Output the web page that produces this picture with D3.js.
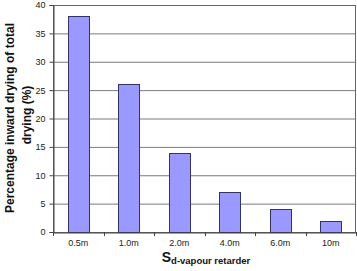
<!DOCTYPE html>
<html><head><meta charset="utf-8">
<script src="https://cdn.jsdelivr.net/npm/d3@7"></script>
<style>body{margin:0;background:#fff}svg{display:block;font-family:"Liberation Sans",Arial,sans-serif}</style>
</head><body>
<svg id="c" width="357" height="271"></svg>
<script>
const categories = ["0.5m","1.0m","2.0m","4.0m","6.0m","10m"];
const values = [38, 26, 14, 7, 4, 2];
const yTicks = [0,5,10,15,20,25,30,35,40];

const svg = d3.select("#c");
const L = 53, R = 356, T = 5, B = 232;
const x = d3.scaleBand().domain(categories).range([L, R]).paddingInner(0.59).paddingOuter(0.295);
const y = d3.scaleLinear().domain([0, 40]).range([B, T]);

// gridlines
svg.append("g").selectAll("line").data(yTicks.filter(t => t > 0 && t < 40)).join("line")
  .attr("x1", L).attr("x2", R).attr("y1", d => y(d) + 0.5).attr("y2", d => y(d) + 0.5)
  .attr("stroke", "#7a7a7a").attr("stroke-width", 1);

// plot border
svg.append("rect").attr("x", L + 0.5).attr("y", T + 0.5).attr("width", R - L - 1).attr("height", B - T)
  .attr("fill", "none").attr("stroke", "#666").attr("stroke-width", 1);

// bars
svg.append("g").selectAll("rect").data(values).join("rect")
  .attr("x", (d, i) => Math.round(x(categories[i])) + 0.5)
  .attr("y", d => Math.round(y(d)) + 0.5)
  .attr("width", Math.round(x.bandwidth()))
  .attr("height", d => Math.round(y(0)) - Math.round(y(d)))
  .attr("fill", "#9999ff").attr("stroke", "#333366").attr("stroke-width", 1);

// y axis
const ya = svg.append("g").attr("transform", `translate(${L + 0.5},0)`)
  .call(d3.axisLeft(y).tickValues(yTicks).tickSize(4).tickPadding(4).tickFormat(d3.format("d")));
ya.select(".domain").attr("stroke", "#444");
ya.selectAll(".tick line").attr("stroke", "#444");
ya.selectAll("text").attr("font-size", 9).attr("fill", "#222").attr("font-family", "Liberation Sans, Arial, sans-serif");

// x axis
const xa = svg.append("g").attr("transform", `translate(0,${B + 0.5})`)
  .call(d3.axisBottom(x).tickSize(0).tickPadding(7));
xa.select(".domain").attr("stroke", "#444");
xa.selectAll("text").attr("font-size", 9).attr("fill", "#222").attr("font-family", "Liberation Sans, Arial, sans-serif");
// tick marks between categories
svg.append("g").selectAll("line").data(d3.range(categories.length + 1)).join("line")
  .attr("x1", i => Math.round(L + i * (R - L) / categories.length) + 0.5)
  .attr("x2", i => Math.round(L + i * (R - L) / categories.length) + 0.5)
  .attr("y1", B).attr("y2", B + 4).attr("stroke", "#444");

// x title
const xt = svg.append("text").attr("x", 206).attr("y", 262).attr("text-anchor", "middle")
  .attr("font-weight", "bold").attr("fill", "#111");
xt.append("tspan").attr("font-size", 14).text("S");
xt.append("tspan").attr("font-size", 9.5).attr("dy", 2).text("d-vapour retarder");

// y title
const yt = svg.append("text").attr("transform", "translate(0,118) rotate(-90)")
  .attr("text-anchor", "middle").attr("font-weight", "bold").attr("font-size", 12).attr("fill", "#111");
yt.append("tspan").attr("x", 0).attr("y", 14).text("Percentage inward drying of total");
yt.append("tspan").attr("x", 3).attr("y", 31).text("drying (%)");
</script>
</body></html>
